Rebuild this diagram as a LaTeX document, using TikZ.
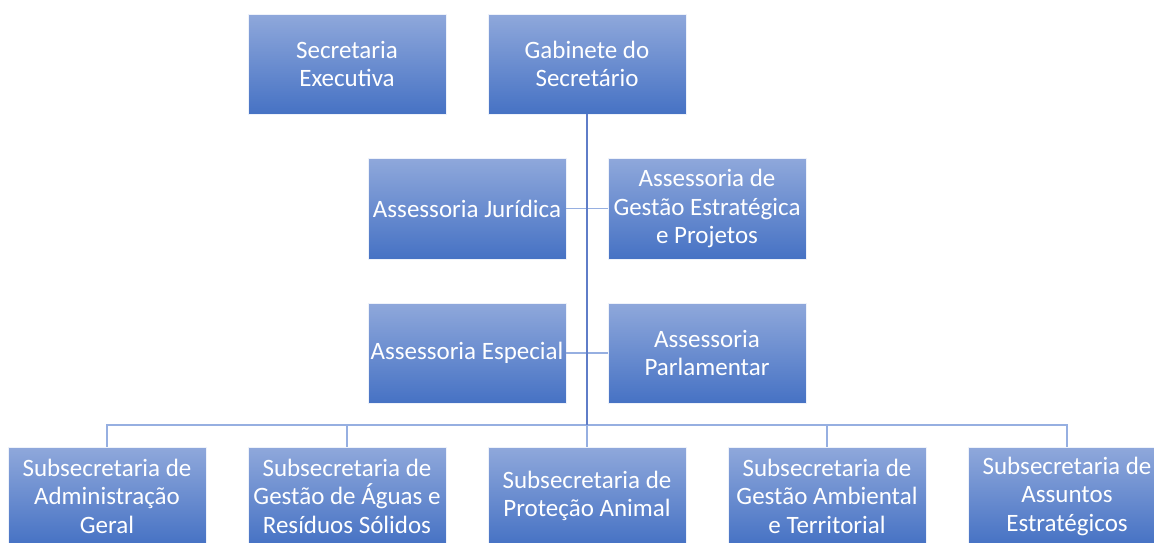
\documentclass[tikz,border=0pt]{standalone}
\usepackage{fontspec}
\setmainfont{Carlito}
\definecolor{boxtop}{RGB}{143,168,219}
\definecolor{boxbot}{RGB}{70,114,196}
\definecolor{trunk}{RGB}{95,125,200}
\definecolor{branch}{RGB}{150,175,225}
\begin{document}
\begin{tikzpicture}[x=1pt,y=-1pt,
  orgbox/.style={rectangle, inner sep=0pt, minimum width=198pt, minimum height=100pt,
    top color=boxtop, bottom color=boxbot, draw=white!85!boxtop, line width=0.6pt,
    text=white, align=center, font=\fontsize{25}{28.5}\selectfont},
  lowbox/.style={orgbox, minimum height=98pt},
  trunkline/.style={draw=trunk, line width=1.1pt},
  branchline/.style={draw=branch, line width=1.1pt}]
\useasboundingbox (0,0) rectangle (1154,542);
\clip (0,0) rectangle (1154,542);
\node[orgbox] (sec) at (347,64) {Secretaria\\Executiva};
\node[orgbox] (gab) at (587,64) {Gabinete do\\Secretário};
\node[orgbox, minimum height=101pt] (jur) at (467,208.5) {Assessoria Jurídica};
\node[orgbox, minimum height=101pt] (ges) at (707,208.5) {Assessoria de\\Gestão Estratégica\\e Projetos};
\node[orgbox] (esp) at (467,353) {Assessoria Especial};
\node[orgbox] (par) at (707,353) {Assessoria\\Parlamentar};
\node[lowbox] (s1) at (107,496) {Subsecretaria de\\Administração\\Geral};
\node[lowbox] (s2) at (347,496) {Subsecretaria de\\Gestão de Águas e\\Resíduos Sólidos};
\node[lowbox] (s3) at (587,496) {Subsecretaria de\\Proteção Animal};
\node[lowbox] (s4) at (827,496) {Subsecretaria de\\Gestão Ambiental\\e Territorial};
\node[lowbox] (s5) at (1067,496) {Subsecretaria de\\Assuntos\\Estratégicos};
\coordinate (bus) at (587,425);
\draw[branchline] (jur.east) -- (ges.west);
\draw[branchline] (esp.east) -- (par.west);
\draw[branchline] (bus) -| (s1.north);
\draw[branchline] (bus) -| (s2.north);
\draw[branchline] (bus) -| (s4.north);
\draw[branchline] (bus) -| (s5.north);
\draw[branchline] (bus) -- (s3.north);
\draw[trunkline] (gab.south) -- (bus);
\end{tikzpicture}
\end{document}
